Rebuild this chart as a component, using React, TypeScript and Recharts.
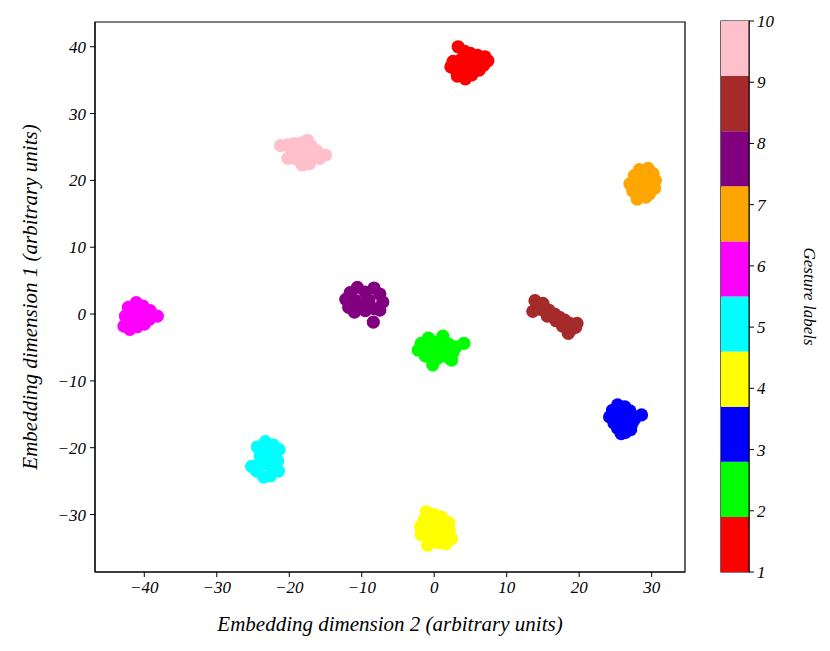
import { Bar, BarChart, ReferenceArea, Scatter, ScatterChart, XAxis, YAxis } from "recharts";

// embedding coordinates per gesture: [dim2, dim1]
const gesture1: [number, number][] = [
  [3.3, 40.0], [4.2, 39.3], [5.0, 39.0], [6.0, 38.7], [7.0, 38.5], [7.4, 37.9], [6.8, 37.2],
  [5.8, 37.5], [4.8, 38.0], [3.8, 38.2], [2.6, 37.8], [2.3, 37.0], [3.0, 36.5], [4.0, 36.8],
  [5.0, 36.6], [6.2, 36.5], [3.2, 35.6], [4.3, 35.2], [5.2, 35.8], [6.4, 37.8],
];
const gesture2: [number, number][] = [
  [-0.8, -3.6], [1.2, -3.3], [-1.8, -4.4], [0.2, -4.2], [2.0, -4.5], [3.0, -4.9], [4.1, -4.4],
  [-2.2, -5.4], [-0.7, -5.3], [1.0, -5.6], [2.6, -5.7], [-1.2, -6.3], [0.5, -6.6], [1.8, -6.4],
  [-0.2, -7.6], [2.4, -6.9], [-1.5, -5.0],
];
const gesture3: [number, number][] = [
  [25.3, -13.6], [26.3, -13.9], [24.6, -14.4], [25.8, -14.6], [27.0, -14.5], [24.2, -15.4],
  [25.4, -15.5], [26.6, -15.4], [28.6, -15.1], [27.6, -15.8], [24.8, -16.3], [26.0, -16.5],
  [27.2, -16.6], [25.3, -17.1], [26.4, -17.7], [27.1, -17.3], [25.8, -17.9],
];
const gesture4: [number, number][] = [
  [-1.1, -29.6], [0.0, -30.0], [1.0, -30.4], [-1.4, -30.8], [0.2, -31.0], [2.0, -31.2],
  [-1.9, -31.8], [-0.6, -32.0], [1.0, -32.0], [2.1, -32.3], [-1.8, -33.0], [-0.3, -33.2],
  [1.2, -33.0], [2.4, -33.6], [-0.9, -34.6], [0.6, -34.2], [1.6, -34.4],
];
const gesture5: [number, number][] = [
  [-23.3, -19.1], [-22.2, -19.6], [-24.4, -19.9], [-21.4, -20.3], [-23.0, -20.6], [-24.0, -21.2],
  [-22.0, -21.4], [-24.1, -22.3], [-21.6, -22.0], [-25.2, -22.8], [-23.2, -22.4], [-24.5, -23.5],
  [-22.2, -23.2], [-21.5, -23.5], [-23.5, -24.4], [-22.6, -24.2],
];
const gesture6: [number, number][] = [
  [-41.1, 1.7], [-40.2, 1.2], [-42.2, 1.0], [-41.5, 0.3], [-40.3, 0.4], [-39.2, 0.5], [-38.2, -0.3],
  [-39.3, -0.8], [-40.5, -0.5], [-42.6, -0.3], [-41.4, -1.0], [-42.8, -1.8], [-42.0, -2.3],
  [-40.0, -1.5], [-41.0, -1.9], [-39.7, -0.1],
];
const gesture7: [number, number][] = [
  [28.3, 21.6], [29.5, 21.8], [30.2, 21.0], [27.6, 20.7], [28.8, 20.5], [30.5, 20.0], [27.0, 19.5],
  [28.0, 19.6], [29.3, 19.4], [30.4, 18.8], [27.4, 18.4], [28.6, 18.2], [29.7, 18.0], [28.0, 17.2],
  [29.2, 17.5], [28.9, 19.0], [29.8, 20.3],
];
const gesture8: [number, number][] = [
  [-10.6, 4.0], [-8.3, 3.9], [-11.6, 3.2], [-9.5, 3.3], [-7.5, 3.0], [-12.2, 2.2], [-10.8, 2.0],
  [-9.0, 2.1], [-7.1, 1.8], [-11.8, 1.0], [-10.2, 0.9], [-8.3, 0.8], [-7.5, 0.6], [-11.0, 0.3],
  [-9.5, 0.5], [-8.4, -1.2], [-10.0, 1.5],
];
const gesture9: [number, number][] = [
  [13.9, 2.0], [15.0, 1.6], [13.6, 0.4], [14.7, 0.7], [15.8, 0.6], [16.6, 0.0], [15.6, -0.3],
  [17.3, -0.5], [16.8, -1.0], [18.0, -0.9], [18.7, -1.4], [19.7, -1.4], [17.7, -1.8], [18.8, -2.4],
  [18.5, -2.9], [19.5, -2.0],
];
const gesture10: [number, number][] = [
  [-21.2, 25.2], [-20.3, 25.3], [-19.3, 25.5], [-18.3, 25.6], [-17.5, 26.0], [-17.0, 25.2],
  [-16.2, 24.4], [-15.0, 23.8], [-15.8, 23.3], [-17.0, 23.0], [-18.2, 22.3], [-17.2, 22.5],
  [-19.0, 23.2], [-20.2, 23.3], [-19.6, 24.3], [-18.4, 24.5], [-17.6, 24.0], [-16.5, 23.6],
];

const gestures = [gesture1, gesture2, gesture3, gesture4, gesture5, gesture6, gesture7, gesture8, gesture9, gesture10];
const labels = [1, 2, 3, 4, 5, 6, 7, 8, 9, 10];
const colors = ["#ff0000", "#00ff00", "#0000ff", "#ffff00", "#00ffff", "#ff00ff", "#ffa500", "#800080", "#a52a2a", "#ffc0cb"];

const xTicks = [-40, -30, -20, -10, 0, 10, 20, 30];
const yTicks = [-30, -20, -10, 0, 10, 20, 30, 40];
const xDomain = [-46.8, 34.6];
const yDomain = [-38.6, 43.7];

const font = '"Liberation Serif", "DejaVu Serif", serif';
const tickStyle = { fontFamily: font, fontStyle: "italic", fontSize: 17, fill: "#000" };
const fmt = (v: number) => String(v).replace("-", "\u2212");

// colour bar: one stacked column, each label gets an equal band between 1 and 10
const barRow: Record<string, number> = { name: 0, base: 1 };
labels.forEach((l) => (barRow["g" + l] = 0.9));

const dot = (p: any) => <circle cx={p.cx} cy={p.cy} r={6.6} fill={p.fill} />;

export default function App() {
  return (
    <div style={{ position: "absolute", left: 0, top: 0, width: 830, height: 651, background: "#fff" }}>
      <div style={{ position: "absolute", left: 0, top: 0 }}>
        <ScatterChart width={830} height={651} margin={{ top: 22, right: 145, bottom: 29, left: 35 }}>
          <XAxis
            type="number"
            dataKey="x"
            domain={xDomain}
            ticks={xTicks}
            tickFormatter={fmt}
            allowDataOverflow
            height={50}
            tickSize={5}
            tickMargin={4}
            stroke="#000"
            tick={tickStyle}
            label={{
              value: "Embedding dimension 2 (arbitrary units)",
              position: "bottom",
              offset: -6,
              style: { fontFamily: font, fontStyle: "italic", fontSize: 21, fill: "#000" },
            }}
          />
          <YAxis
            type="number"
            dataKey="y"
            domain={yDomain}
            ticks={yTicks}
            tickFormatter={fmt}
            allowDataOverflow
            width={60}
            tickSize={5}
            tickMargin={4}
            stroke="#000"
            tick={tickStyle}
            label={{
              value: "Embedding dimension 1 (arbitrary units)",
              position: "left",
              angle: -90,
              offset: 5,
              style: { fontFamily: font, fontStyle: "italic", fontSize: 21, fill: "#000", textAnchor: "middle" },
            }}
          />
          <ReferenceArea x1={xDomain[0]} x2={xDomain[1]} y1={yDomain[0]} y2={yDomain[1]} fill="none" stroke="#000" strokeWidth={1.2} fillOpacity={0} />
          {gestures.map((pts, i) => (
            <Scatter
              key={labels[i]}
              name={String(labels[i])}
              data={pts.map(([x, y]) => ({ x, y }))}
              fill={colors[i]}
              shape={dot}
              isAnimationActive={false}
            />
          ))}
        </ScatterChart>
      </div>
      <div style={{ position: "absolute", left: 700, top: 0 }}>
        <BarChart
          width={130}
          height={651}
          data={[barRow]}
          margin={{ top: 21, right: 21, bottom: 79, left: 21 }}
          barCategoryGap={0}
          barGap={0}
        >
          <XAxis dataKey="name" height={0} tick={false} tickLine={false} axisLine={false} />
          <YAxis
            orientation="right"
            type="number"
            domain={[1, 10]}
            ticks={labels}
            allowDataOverflow
            width={60}
            tickSize={5}
            tickMargin={3}
            stroke="#000"
            tick={{ ...tickStyle, textAnchor: "start" }}
            label={{
              value: "Gesture labels",
              position: "right",
              angle: 90,
              offset: 1,
              style: { fontFamily: font, fontStyle: "italic", fontSize: 17, fill: "#000", textAnchor: "middle" },
            }}
          />
          <Bar dataKey="base" stackId="cb" fill="none" isAnimationActive={false} />
          {labels.map((l, i) => (
            <Bar key={l} dataKey={"g" + l} stackId="cb" fill={colors[i]} isAnimationActive={false} />
          ))}
          <ReferenceArea y1={1} y2={10} fill="none" fillOpacity={0} stroke="#000" strokeWidth={1.2} />
        </BarChart>
      </div>
    </div>
  );
}
